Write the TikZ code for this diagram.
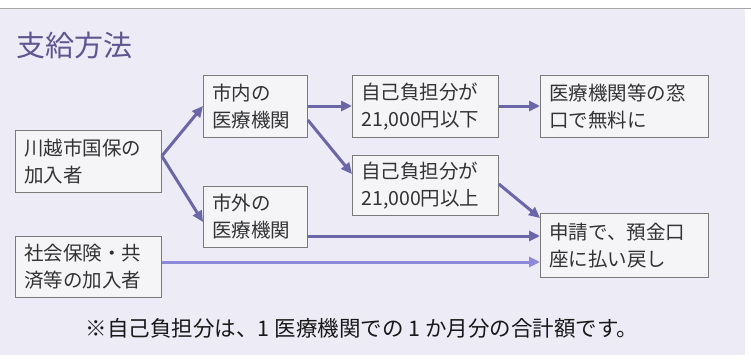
\documentclass[tikz,border=0pt]{standalone}
\usepackage{fontspec}
\newfontfamily\jp{Noto Sans CJK JP}
\usetikzlibrary{arrows.meta}
\definecolor{bgc}{HTML}{ECEBF6}
\definecolor{boxfill}{HTML}{F5F5F8}
\definecolor{boxline}{HTML}{7A7A7A}
\definecolor{arr}{HTML}{6B66A8}
\definecolor{arrlight}{HTML}{8C88DA}
\definecolor{titlec}{HTML}{5F5690}
\definecolor{txt}{HTML}{333333}
\begin{document}
\begin{tikzpicture}[x=1pt,y=-1pt,
  box/.style={draw=boxline, line width=0.8pt, fill=boxfill, anchor=north west,
    inner xsep=9pt, inner ysep=0pt, align=left, text=txt,
    font=\jp\fontsize{19.5}{27}\selectfont},
  conn/.style={draw=arr, line width=3pt, -{Triangle[length=11pt,width=10pt]}},
  connl/.style={draw=arrlight, line width=3pt, -{Triangle[length=11pt,width=10pt]}}]
\useasboundingbox (0,0) rectangle (751,361);
\fill[white] (0,0) rectangle (751,361);
\fill[bgc] (0,9) rectangle (745,355);
\draw[gray!70, line width=1pt] (0,8.5) -- (751,8.5);

\node[anchor=west, text=titlec, font=\jp\fontsize{29}{32}\selectfont, inner sep=0pt] (title) at (16,45) {支給方法};

\node[box, minimum width=146pt, minimum height=62pt, text width=128pt] (kk) at (15,130) {川越市国保の\\加入者};
\node[box, minimum width=146pt, minimum height=61pt, text width=128pt] (sh) at (15,236) {社会保険・共\\済等の加入者};
\node[box, minimum width=104pt, minimum height=62pt, text width=86pt] (sn) at (203,75) {市内の\\医療機関};
\node[box, minimum width=104pt, minimum height=61pt, text width=86pt] (sg) at (203,186) {市外の\\医療機関};
\node[box, minimum width=146pt, minimum height=62pt, text width=128pt] (ka) at (352,75) {自己負担分が\\21,000円以下};
\node[box, minimum width=146pt, minimum height=60pt, text width=128pt] (jo) at (352,155) {自己負担分が\\21,000円以上};
\node[box, minimum width=168pt, minimum height=62pt, text width=150pt] (mu) at (540,75) {医療機関等の窓\\口で無料に};
\node[box, minimum width=168pt, minimum height=64pt, text width=150pt] (sk) at (540,213) {申請で、預金口\\座に払い戻し};

\coordinate (kkp) at (kk.east |- 0,156);
\draw[conn] (kkp) -- (sn.west |- 0,106);
\draw[conn] (kkp) -- (sg.west |- 0,222);
\draw[conn] (sn.east |- 0,106) -- (ka.west |- 0,106);
\draw[conn] (sn.east |- 0,120) -- (jo.west |- 0,174);
\draw[conn] (ka.east |- 0,106) -- (mu.west |- 0,106);
\draw[conn] (jo.east |- 0,184) -- (sk.west |- 0,218);
\draw[conn] (sg.east |- 0,236) -- (sk.west |- 0,236);
\draw[connl] (sh.east |- 0,262) -- (sk.west |- 0,262);

\node[anchor=center, text=black!90, font=\jp\fontsize{21.5}{24}\selectfont, inner sep=0pt] (note) at (362,328) {※自己負担分は、1 医療機関での 1 か月分の合計額です。};
\end{tikzpicture}
\end{document}
